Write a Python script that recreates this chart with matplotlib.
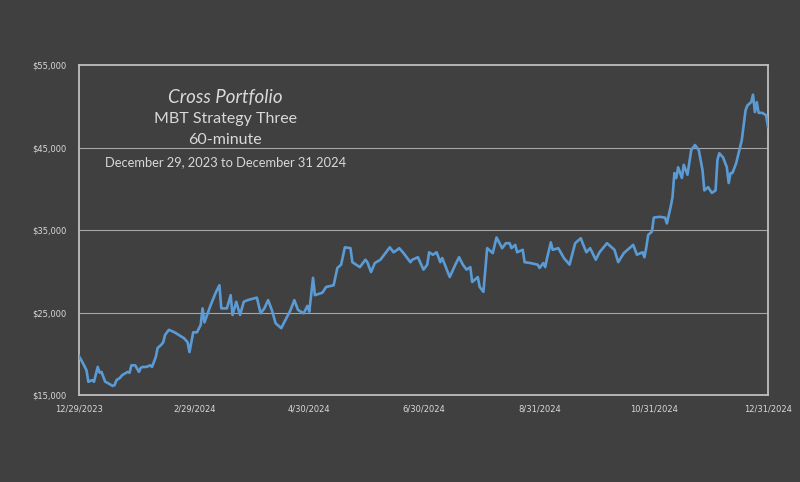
import numpy as np
import pandas as pd
import matplotlib

matplotlib.use("Agg")
import matplotlib.pyplot as plt

start_date = "2023-12-29"
day_offsets = [
    0, 2, 4, 5, 7, 8, 10, 11, 12, 14, 15, 18, 19, 20, 22, 23, 26, 27, 28, 30,
    32, 33, 34, 36, 38, 39, 41, 42, 44, 45, 46, 48, 51, 56, 58, 59, 61, 63, 65, 66,
    67, 70, 73, 75, 76, 79, 81, 82, 84, 86, 88, 90, 95, 97, 99, 101, 103, 105, 108, 113,
    115, 117, 120, 122, 123, 125, 126, 130, 132, 136, 138, 140, 142, 145, 146, 150, 153, 154, 156, 158,
    161, 162, 165, 166, 168, 170, 171, 173, 177, 178, 181, 184, 186, 187, 189, 191, 193, 194, 198, 201,
    203, 205, 207, 209, 210, 213, 214, 216, 218, 221, 223, 226, 228, 230, 231, 233, 234, 237, 238, 241,
    245, 246, 248, 249, 250, 252, 253, 256, 259, 262, 265, 268, 269, 271, 273, 276, 278, 282, 285, 286,
    288, 291, 293, 296, 298, 301, 302, 303, 304, 306, 307, 310, 313, 314, 316, 317, 318, 319, 320, 322,
    323, 325, 327, 329, 331, 333, 334, 336, 338, 340, 341, 342, 344, 346, 347, 348, 349, 351, 354, 356,
    357, 359, 360, 361, 362, 363, 365, 367, 368,
]
equity = [
    19700, 18900, 18000, 16600, 16800, 16600, 18400, 17700, 17800, 16600, 16500, 16100, 16200, 16800, 17100, 17400, 17800, 17700, 18600, 18600,
    17800, 18300, 18400, 18400, 18600, 18400, 19600, 20700, 21100, 21400, 22300, 22900, 22600, 21900, 21400, 20200, 22600, 22600, 23500, 25500,
    23800, 25700, 27400, 28300, 25500, 25500, 27100, 24700, 26300, 24700, 26300, 26500, 26800, 24900, 25500, 26500, 25300, 23700, 23100, 25300,
    26500, 25300, 24900, 25800, 25100, 29200, 27100, 27400, 28100, 28300, 30400, 30800, 32900, 32800, 31100, 30500, 31400, 31100, 29900, 31000,
    31400, 31700, 32600, 32900, 32300, 32600, 32800, 32300, 31100, 31400, 31700, 30200, 30800, 32300, 32000, 32300, 31100, 31600, 29300, 30800,
    31700, 30800, 30200, 30500, 28700, 29300, 28100, 27500, 32800, 32200, 34100, 32800, 33400, 33400, 32800, 33200, 32300, 32600, 31100, 31000,
    30800, 30400, 31000, 30500, 31600, 33500, 32600, 32800, 31600, 30800, 33400, 34000, 33400, 32300, 32800, 31400, 32300, 33400, 32800, 32600,
    31100, 32200, 32600, 33200, 32000, 32300, 31700, 32900, 34400, 34800, 36500, 36600, 36500, 35800, 37800, 39000, 41900, 41300, 42600, 41300,
    42900, 41700, 44700, 45300, 44700, 42300, 39800, 40200, 39500, 39800, 43500, 44300, 43800, 42600, 40700, 41900, 41900, 43100, 45900, 49500,
    50100, 50500, 51400, 49300, 50500, 49200, 49200, 48900, 47500,
]
tick_dates = ["2023-12-29", "2024-02-29", "2024-04-30", "2024-06-30",
              "2024-08-31", "2024-10-31", "2024-12-31"]
tick_labels = ["12/29/2023", "2/29/2024", "4/30/2024", "6/30/2024",
               "8/31/2024", "10/31/2024", "12/31/2024"]
y_ticks = [15000, 25000, 35000, 45000, 55000]
y_labels = ["$15,000", "$25,000", "$35,000", "$45,000", "$55,000"]

bg = "#404040"
text_col = "#d9d9d9"
dates = pd.Timestamp(start_date) + pd.to_timedelta(day_offsets, unit="D")
ticks = pd.to_datetime(tick_dates)

fig = plt.figure(figsize=(8, 4.82), dpi=100, facecolor=bg)
ax = fig.add_axes([0.09875, 0.1805, 0.86125, 0.6846], facecolor=bg)

for v in y_ticks[1:-1]:
    ax.axhline(v, color="#a6a6a6", linewidth=0.8, zorder=1)
ax.plot(dates, equity, color="#5b9bd5", linewidth=1.9, zorder=3,
        solid_joinstyle="round")

ax.set_xlim(ticks[0], ticks[-1])
ax.set_ylim(15000, 55000)
ax.set_xticks(ticks)
ax.set_xticklabels(tick_labels)
ax.set_yticks(y_ticks)
ax.set_yticklabels(y_labels)
ax.tick_params(length=0, labelsize=6, colors=text_col, pad=7)
ax.tick_params(axis="y", pad=9)
for s in ax.spines.values():
    s.set_color("#bfbfbf")
    s.set_linewidth(1.3)

fam = ["Lato", "DejaVu Sans"]
cx = 0.212
ax.text(cx, 0.903, "Cross Portfolio", transform=ax.transAxes, ha="center",
        va="center", fontsize=13.5, style="italic", color=text_col, family=fam)
ax.text(cx, 0.836, "MBT Strategy Three", transform=ax.transAxes, ha="center",
        va="center", fontsize=11.5, color=text_col, family=fam)
ax.text(cx, 0.772, "60-minute", transform=ax.transAxes, ha="center",
        va="center", fontsize=11.5, color=text_col, family=fam)
ax.text(cx, 0.707, "December 29, 2023 to December 31 2024", transform=ax.transAxes,
        ha="center", va="center", fontsize=9.3, color=text_col, family=fam)

fig.savefig("out.png", dpi=100, facecolor=bg)
